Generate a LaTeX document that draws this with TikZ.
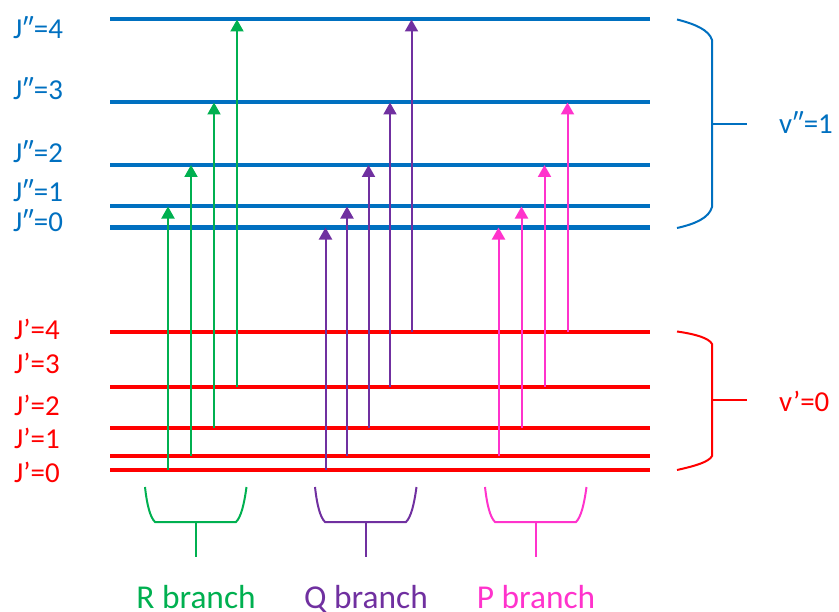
\documentclass[tikz,border=0pt]{standalone}
\usepackage{fontspec}
\setmainfont{Carlito}
\usetikzlibrary{arrows.meta}
\definecolor{lvblue}{HTML}{0070C0}
\definecolor{lvred}{HTML}{FF0000}
\definecolor{rgreen}{HTML}{00B050}
\definecolor{qpurple}{HTML}{7030A0}
\definecolor{ppink}{HTML}{FF33CC}
\tikzset{
  level/.style={line width=4bp},
  trans/.style={line width=2bp,-{Triangle[width=13bp,length=12bp]}},
  brace/.style={line width=2bp},
  jlabel/.style={anchor=base west,inner sep=0pt,font=\fontsize{29}{31}\selectfont},
  blabel/.style={anchor=base,inner sep=0pt,font=\fontsize{33.5}{36}\selectfont},
}
\begin{document}
\begin{tikzpicture}[x=1bp,y=-1bp]
\useasboundingbox (0,0) rectangle (839,612);

% rotational levels of the upper vibrational state
\foreach \n/\y in {0/227.5,1/206.5,2/165,3/102.5,4/19.5}{
  \coordinate (U\n) at (110,\y);
  \coordinate (U\n e) at (650,\y);
  \draw[level,lvblue] (U\n) -- (U\n e);
}
% rotational levels of the lower vibrational state
\foreach \n/\y in {0/469.5,1/456,2/428,3/387,4/331.5}{
  \coordinate (L\n) at (110,\y);
  \coordinate (L\n e) at (650,\y);
  \draw[level,lvred] (L\n) -- (L\n e);
}

% level labels
\node[jlabel,text=lvblue] (tU4) at (13,38.3) {J″=4};
\node[jlabel,text=lvblue] (tU3) at (13,100) {J″=3};
\node[jlabel,text=lvblue] (tU2) at (13,162.5) {J″=2};
\node[jlabel,text=lvblue] (tU1) at (13,201.5) {J″=1};
\node[jlabel,text=lvblue] (tU0) at (13,232) {J″=0};
\node[jlabel,text=lvred] (tL4) at (14,339.3) {J’=4};
\node[jlabel,text=lvred] (tL3) at (14,373.5) {J’=3};
\node[jlabel,text=lvred] (tL2) at (14,415.5) {J’=2};
\node[jlabel,text=lvred] (tL1) at (14,448) {J’=1};
\node[jlabel,text=lvred] (tL0) at (14,482) {J’=0};

% R branch: J' -> J'+1
\draw[trans,rgreen] (168,0 |- L0) -- (168,2 |- U1);
\draw[trans,rgreen] (191,0 |- L1) -- (191,2 |- U2);
\draw[trans,rgreen] (214,0 |- L2) -- (214,2 |- U3);
\draw[trans,rgreen] (237,0 |- L3) -- (237,2 |- U4);

% Q branch: J' -> J'
\draw[trans,qpurple] (325.5,0 |- L0) -- (325.5,2 |- U0);
\draw[trans,qpurple] (347,0 |- L1) -- (347,2 |- U1);
\draw[trans,qpurple] (368.5,0 |- L2) -- (368.5,2 |- U2);
\draw[trans,qpurple] (390,0 |- L3) -- (390,2 |- U3);
\draw[trans,qpurple] (411.5,0 |- L4) -- (411.5,2 |- U4);

% P branch: J' -> J'-1
\draw[trans,ppink] (498.5,0 |- L1) -- (498.5,2 |- U0);
\draw[trans,ppink] (521.5,0 |- L2) -- (521.5,2 |- U1);
\draw[trans,ppink] (544.5,0 |- L3) -- (544.5,2 |- U2);
\draw[trans,ppink] (567.5,0 |- L4) -- (567.5,2 |- U3);

% vibrational state braces
\coordinate (bU) at (747,124);
\draw[brace,lvblue] (677,19.5) .. controls (695,24) and (709,30) .. (712,40)
  -- (712,207) .. controls (709,218) and (695,224) .. (677,228);
\draw[brace,lvblue] (712,124) -- (bU);
\node[jlabel,text=lvblue] (vU) at (779,134) {v″=1};

\coordinate (bL) at (747,400);
\draw[brace,lvred] (677,331.5) .. controls (695,334) and (709,338) .. (712,344)
  -- (712,456) .. controls (709,462) and (695,466) .. (677,470);
\draw[brace,lvred] (712,400) -- (bL);
\node[jlabel,text=lvred] (vL) at (779,411) {v’=0};

% branch braces and labels
\foreach \c/\l/\nm/\txt in {rgreen/145/R/R branch, qpurple/315/Q/Q branch, ppink/485/P/P branch}{
  \draw[brace,\c] (\l,487) .. controls (\l+2,505) and (\l+5,517) .. (\l+10,522)
    -- (\l+91,522) .. controls (\l+96,517) and (\l+99,505) .. (\l+101.5,487);
  \coordinate (s\nm) at (\l+50.5,522);
  \coordinate (e\nm) at (\l+50.5,557);
  \draw[brace,\c] (s\nm) -- (e\nm);
  \node[blabel,text=\c] (b\nm) at (\l+51,608) {\txt};
}
\end{tikzpicture}
\end{document}
